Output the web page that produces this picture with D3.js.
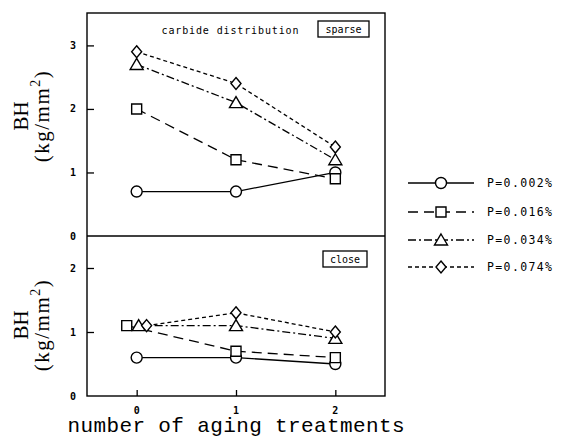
<!DOCTYPE html>
<html><head><meta charset="utf-8">
<script src="https://cdn.jsdelivr.net/npm/d3@7/dist/d3.min.js"></script>
<style>body{margin:0;background:#fff;}</style>
</head><body>
<script>
const treatments = [0, 1, 2];
const seriesNames = ["P=0.002%", "P=0.016%", "P=0.034%", "P=0.074%"];
const sparseValues = [
  [0.7, 0.7, 1.0],
  [2.0, 1.2, 0.9],
  [2.7, 2.1, 1.2],
  [2.9, 2.4, 1.4]
];
const closeValues = [
  [0.6, 0.6, 0.5],
  [1.1, 0.7, 0.6],
  [1.1, 1.1, 0.9],
  [1.1, 1.3, 1.0]
];
// slight horizontal offsets at treatment 0 in the "close" panel (as drawn)
const closeX = [
  [0, 1, 2],
  [-0.1, 1, 2],
  [0.02, 1, 2],
  [0.1, 1, 2]
];
const xTicks = [0, 1, 2];
const sparseTicks = [0, 1, 2, 3];
const closeTicks = [0, 1, 2];

(function () {
const W = 566, H = 440;
const svg = d3.select("body").append("svg").attr("width", W).attr("height", H);

const pL = 87, pR = 385, pT = 13, pM = 236, pB = 396;
const x = d3.scaleLinear().domain([-0.5, 2.5]).range([pL, pR]);
const yTop = d3.scaleLinear().domain([0, 3.51]).range([pM, pT]);
const yBot = d3.scaleLinear().domain([0, 2.5]).range([pB, pM]);

const dashes = [null, "10,6", "8,3,2,3", "4,3"];
const shapes = ["circle", "square", "triangle", "diamond"];

function marker(g, shape, cx, cy) {
  const s = g.append("path").attr("fill", "#fff").attr("stroke", "#000").attr("stroke-width", 1.4);
  let d;
  if (shape === "circle") { const r = 5.5; d = `M${cx - r},${cy}a${r},${r} 0 1,0 ${2 * r},0a${r},${r} 0 1,0 ${-2 * r},0Z`; }
  else if (shape === "square") { const h = 5; d = `M${cx - h},${cy - h}h${2 * h}v${2 * h}h${-2 * h}Z`; }
  else if (shape === "triangle") { d = `M${cx},${cy - 6}L${cx + 6.5},${cy + 5}L${cx - 6.5},${cy + 5}Z`; }
  else { d = `M${cx},${cy - 6}L${cx + 5},${cy}L${cx},${cy + 6}L${cx - 5},${cy}Z`; }
  s.attr("d", d);
}

function panel(values, xs, y) {
  const g = svg.append("g");
  values.forEach((vals, i) => {
    const pts = vals.map((v, j) => [x(xs[i][j]), y(v)]);
    g.append("path").attr("d", d3.line()(pts)).attr("fill", "none")
      .attr("stroke", "#000").attr("stroke-width", 1.3)
      .attr("stroke-dasharray", dashes[i]);
  });
  values.forEach((vals, i) => {
    vals.forEach((v, j) => marker(g, shapes[i], x(xs[i][j]), y(v)));
  });
}

// frame
svg.append("rect").attr("x", pL).attr("y", pT).attr("width", pR - pL).attr("height", pB - pT)
  .attr("fill", "none").attr("stroke", "#000").attr("stroke-width", 1.4);
svg.append("line").attr("x1", pL).attr("x2", pR).attr("y1", pM).attr("y2", pM)
  .attr("stroke", "#000").attr("stroke-width", 1.4);

function tickText(tx, ty, t) {
  svg.append("text").attr("x", tx).attr("y", ty).attr("dy", "0.35em")
    .attr("text-anchor", "middle").attr("font-family", "DejaVu Sans Mono, monospace")
    .attr("font-weight", "bold").attr("font-size", 10).text(t);
}

// y axes (ticks inward)
function yAxis(scale, ticks) {
  const inner = ticks.filter(t => t > 0);
  const ax = svg.append("g").attr("transform", `translate(${pL},0)`)
    .call(d3.axisRight(scale).tickValues(inner).tickSize(7).tickFormat(""));
  ax.select(".domain").remove();
  ax.selectAll("line").attr("stroke-width", 1.3);
  ticks.forEach(t => tickText(73, scale(t), t));
}
yAxis(yTop, sparseTicks);
yAxis(yBot, closeTicks);

// x axis (ticks inward)
const xa = svg.append("g").attr("transform", `translate(0,${pB})`)
  .call(d3.axisTop(x).tickValues(xTicks).tickSize(6).tickFormat(""));
xa.select(".domain").remove();
xa.selectAll("line").attr("stroke-width", 1.3);
xTicks.forEach(t => tickText(x(t), 410, t));

panel(sparseValues, [treatments, treatments, treatments, treatments], yTop);
panel(closeValues, closeX, yBot);

// annotations
svg.append("text").attr("x", 230).attr("y", 30).attr("dy", "0.35em").attr("text-anchor", "middle")
  .attr("font-family", "DejaVu Sans Mono, monospace").attr("font-size", 10).attr("textLength", 137).text("carbide distribution");
function boxLabel(txt, x0, y0, w, h) {
  svg.append("rect").attr("x", x0).attr("y", y0).attr("width", w).attr("height", h)
    .attr("fill", "#fff").attr("stroke", "#000").attr("stroke-width", 1.3);
  svg.append("text").attr("x", x0 + w / 2).attr("y", y0 + h / 2).attr("dy", "0.35em").attr("text-anchor", "middle")
    .attr("font-family", "DejaVu Sans Mono, monospace").attr("font-size", 10).text(txt);
}
boxLabel("sparse", 318, 21, 51, 16);
boxLabel("close", 323, 251, 44, 16);

// y labels
function yLabel(cy) {
  svg.append("text").attr("transform", `translate(28,${cy}) rotate(-90)`).attr("text-anchor", "middle")
    .attr("font-family", "Liberation Serif, serif").attr("font-size", 21).text("BH");
  const t = svg.append("text").attr("transform", `translate(49,${cy}) rotate(-90)`).attr("text-anchor", "middle")
    .attr("font-family", "Liberation Serif, serif").attr("font-size", 21).attr("letter-spacing", 1.5);
  t.append("tspan").text("(kg/mm");
  t.append("tspan").attr("dy", -9).attr("font-size", 14).text("2");
  t.append("tspan").attr("dy", 9).text(")");
}
yLabel(116);
yLabel(325);

// x label
svg.append("text").attr("x", 236).attr("y", 432).attr("text-anchor", "middle")
  .attr("font-family", "Courier New, Liberation Mono, monospace").attr("font-size", 21).attr("textLength", 337)
  .text("number of aging treatments");

// legend
const legY = [183, 212, 240, 267];
seriesNames.forEach((name, i) => {
  const g = svg.append("g");
  g.append("line").attr("x1", 408).attr("x2", 474).attr("y1", legY[i]).attr("y2", legY[i])
    .attr("stroke", "#000").attr("stroke-width", 1.3).attr("stroke-dasharray", dashes[i]);
  marker(g, shapes[i], 441, legY[i]);
  g.append("text").attr("x", 487).attr("y", legY[i]).attr("dy", "0.35em")
    .attr("font-family", "DejaVu Sans Mono, monospace").attr("font-size", 11.5).attr("textLength", 65).text(name);
});
})();
</script>
</body></html>
